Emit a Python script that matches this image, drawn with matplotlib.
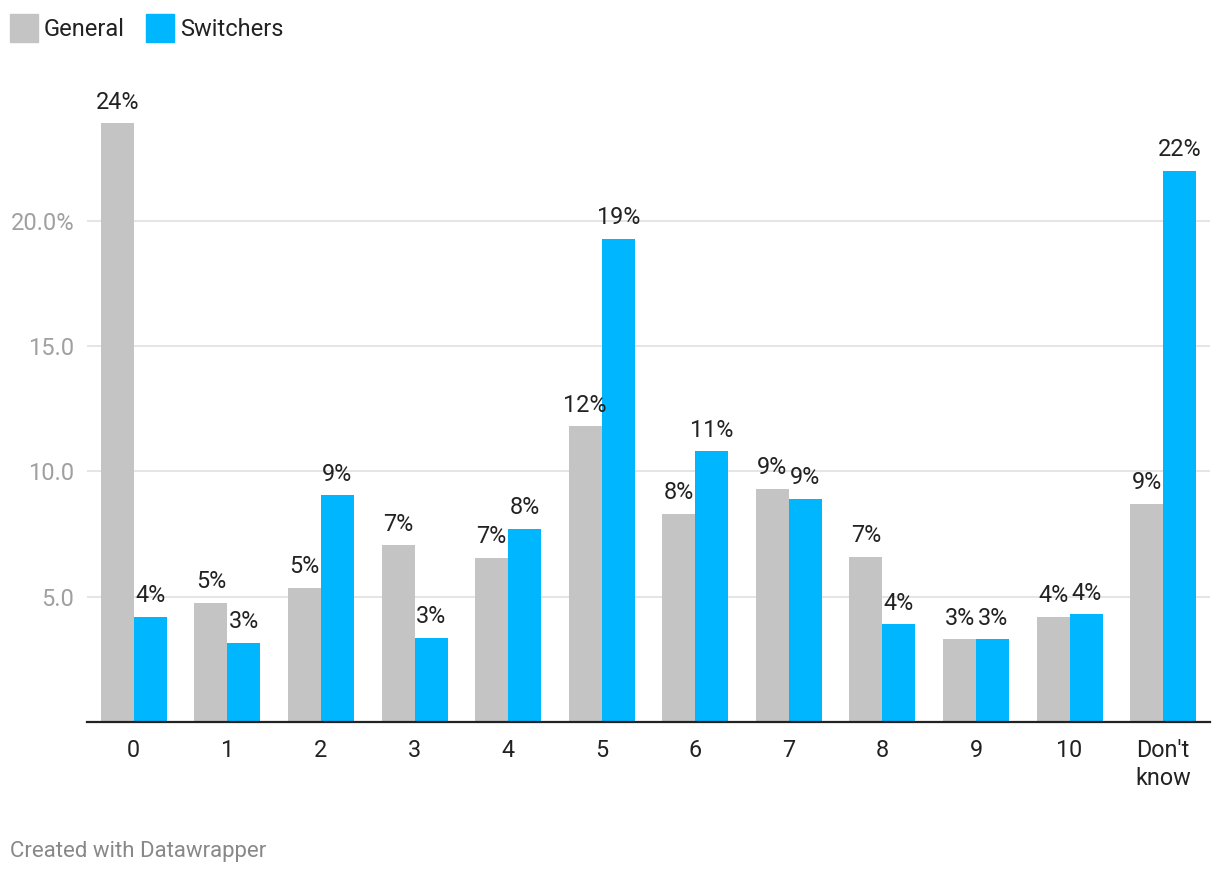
import numpy as np
import matplotlib
matplotlib.use('Agg')
from matplotlib import pyplot as plt
from matplotlib.patches import Rectangle

plt.rcParams['font.family'] = ['Roboto', 'DejaVu Sans']

categories = ['0', '1', '2', '3', '4', '5', '6', '7', '8', '9', '10', "Don't\nknow"]
general = [23.9, 4.75, 5.35, 7.05, 6.55, 11.8, 8.3, 9.3, 6.6, 3.3, 4.2, 8.7]
switchers = [4.2, 3.15, 9.05, 3.35, 7.7, 19.3, 10.8, 8.9, 3.9, 3.3, 4.3, 22.0]
ytick_vals = [5, 10, 15, 20]
ytick_labels = ['5.0', '10.0', '15.0', '20.0%']

gray = '#c4c4c4'
blue = '#00b7ff'
text_col = '#222222'

fig = plt.figure(figsize=(12.2, 8.72), dpi=100)
ax = fig.add_axes([87 / 1220, 150 / 872, (1210 - 87) / 1220, (722 - 90) / 872])

x = np.arange(len(categories))
w = 0.353
b1 = ax.bar(x - w / 2, general, w, color=gray, zorder=2)
b2 = ax.bar(x + w / 2, switchers, w, color=blue, zorder=2)

for bars, vals in ((b1, general), (b2, switchers)):
    for rect, v in zip(bars, vals):
        ax.annotate('%d%%' % int(v + 0.5), (rect.get_x() + rect.get_width() / 2, v),
                    xytext=(0, 7), textcoords='offset points', ha='center', va='bottom',
                    fontsize=16.8, color=text_col, zorder=5)

ax.set_xlim(-0.5, 11.5)
ax.set_ylim(0, (722 - 90) / 25.05)
ax.set_yticks(ytick_vals)
ax.set_yticklabels(ytick_labels)
ax.set_xticks(x)
ax.set_xticklabels(categories, linespacing=1.3)
ax.tick_params(axis='y', length=0, pad=9, labelsize=17, labelcolor='#a0a0a0')
ax.tick_params(axis='x', length=0, pad=12, labelsize=16.8, labelcolor=text_col)
ax.grid(True, axis='y', color='#e5e5e5', linewidth=1.4, zorder=0)
ax.set_axisbelow(True)
for s in ('top', 'right', 'left'):
    ax.spines[s].set_visible(False)
ax.spines['bottom'].set_color(text_col)
ax.spines['bottom'].set_linewidth(1.6)
ax.spines['bottom'].set_zorder(4)

# legend
for px, col, lab in ((10, gray, 'General'), (146, blue, 'Switchers')):
    fig.patches.append(Rectangle((px / 1220, 1 - 42 / 872), 28 / 1220, 28 / 872,
                                 transform=fig.transFigure, color=col))
    fig.text((px + 34) / 1220, 1 - 30 / 872, lab, fontsize=17, color=text_col,
             va='center', ha='left')

fig.text(10 / 1220, 1 - 851 / 872, 'Created with Datawrapper', fontsize=16,
         color='#888888', va='center', ha='left')

fig.savefig('out.png', dpi=100)
